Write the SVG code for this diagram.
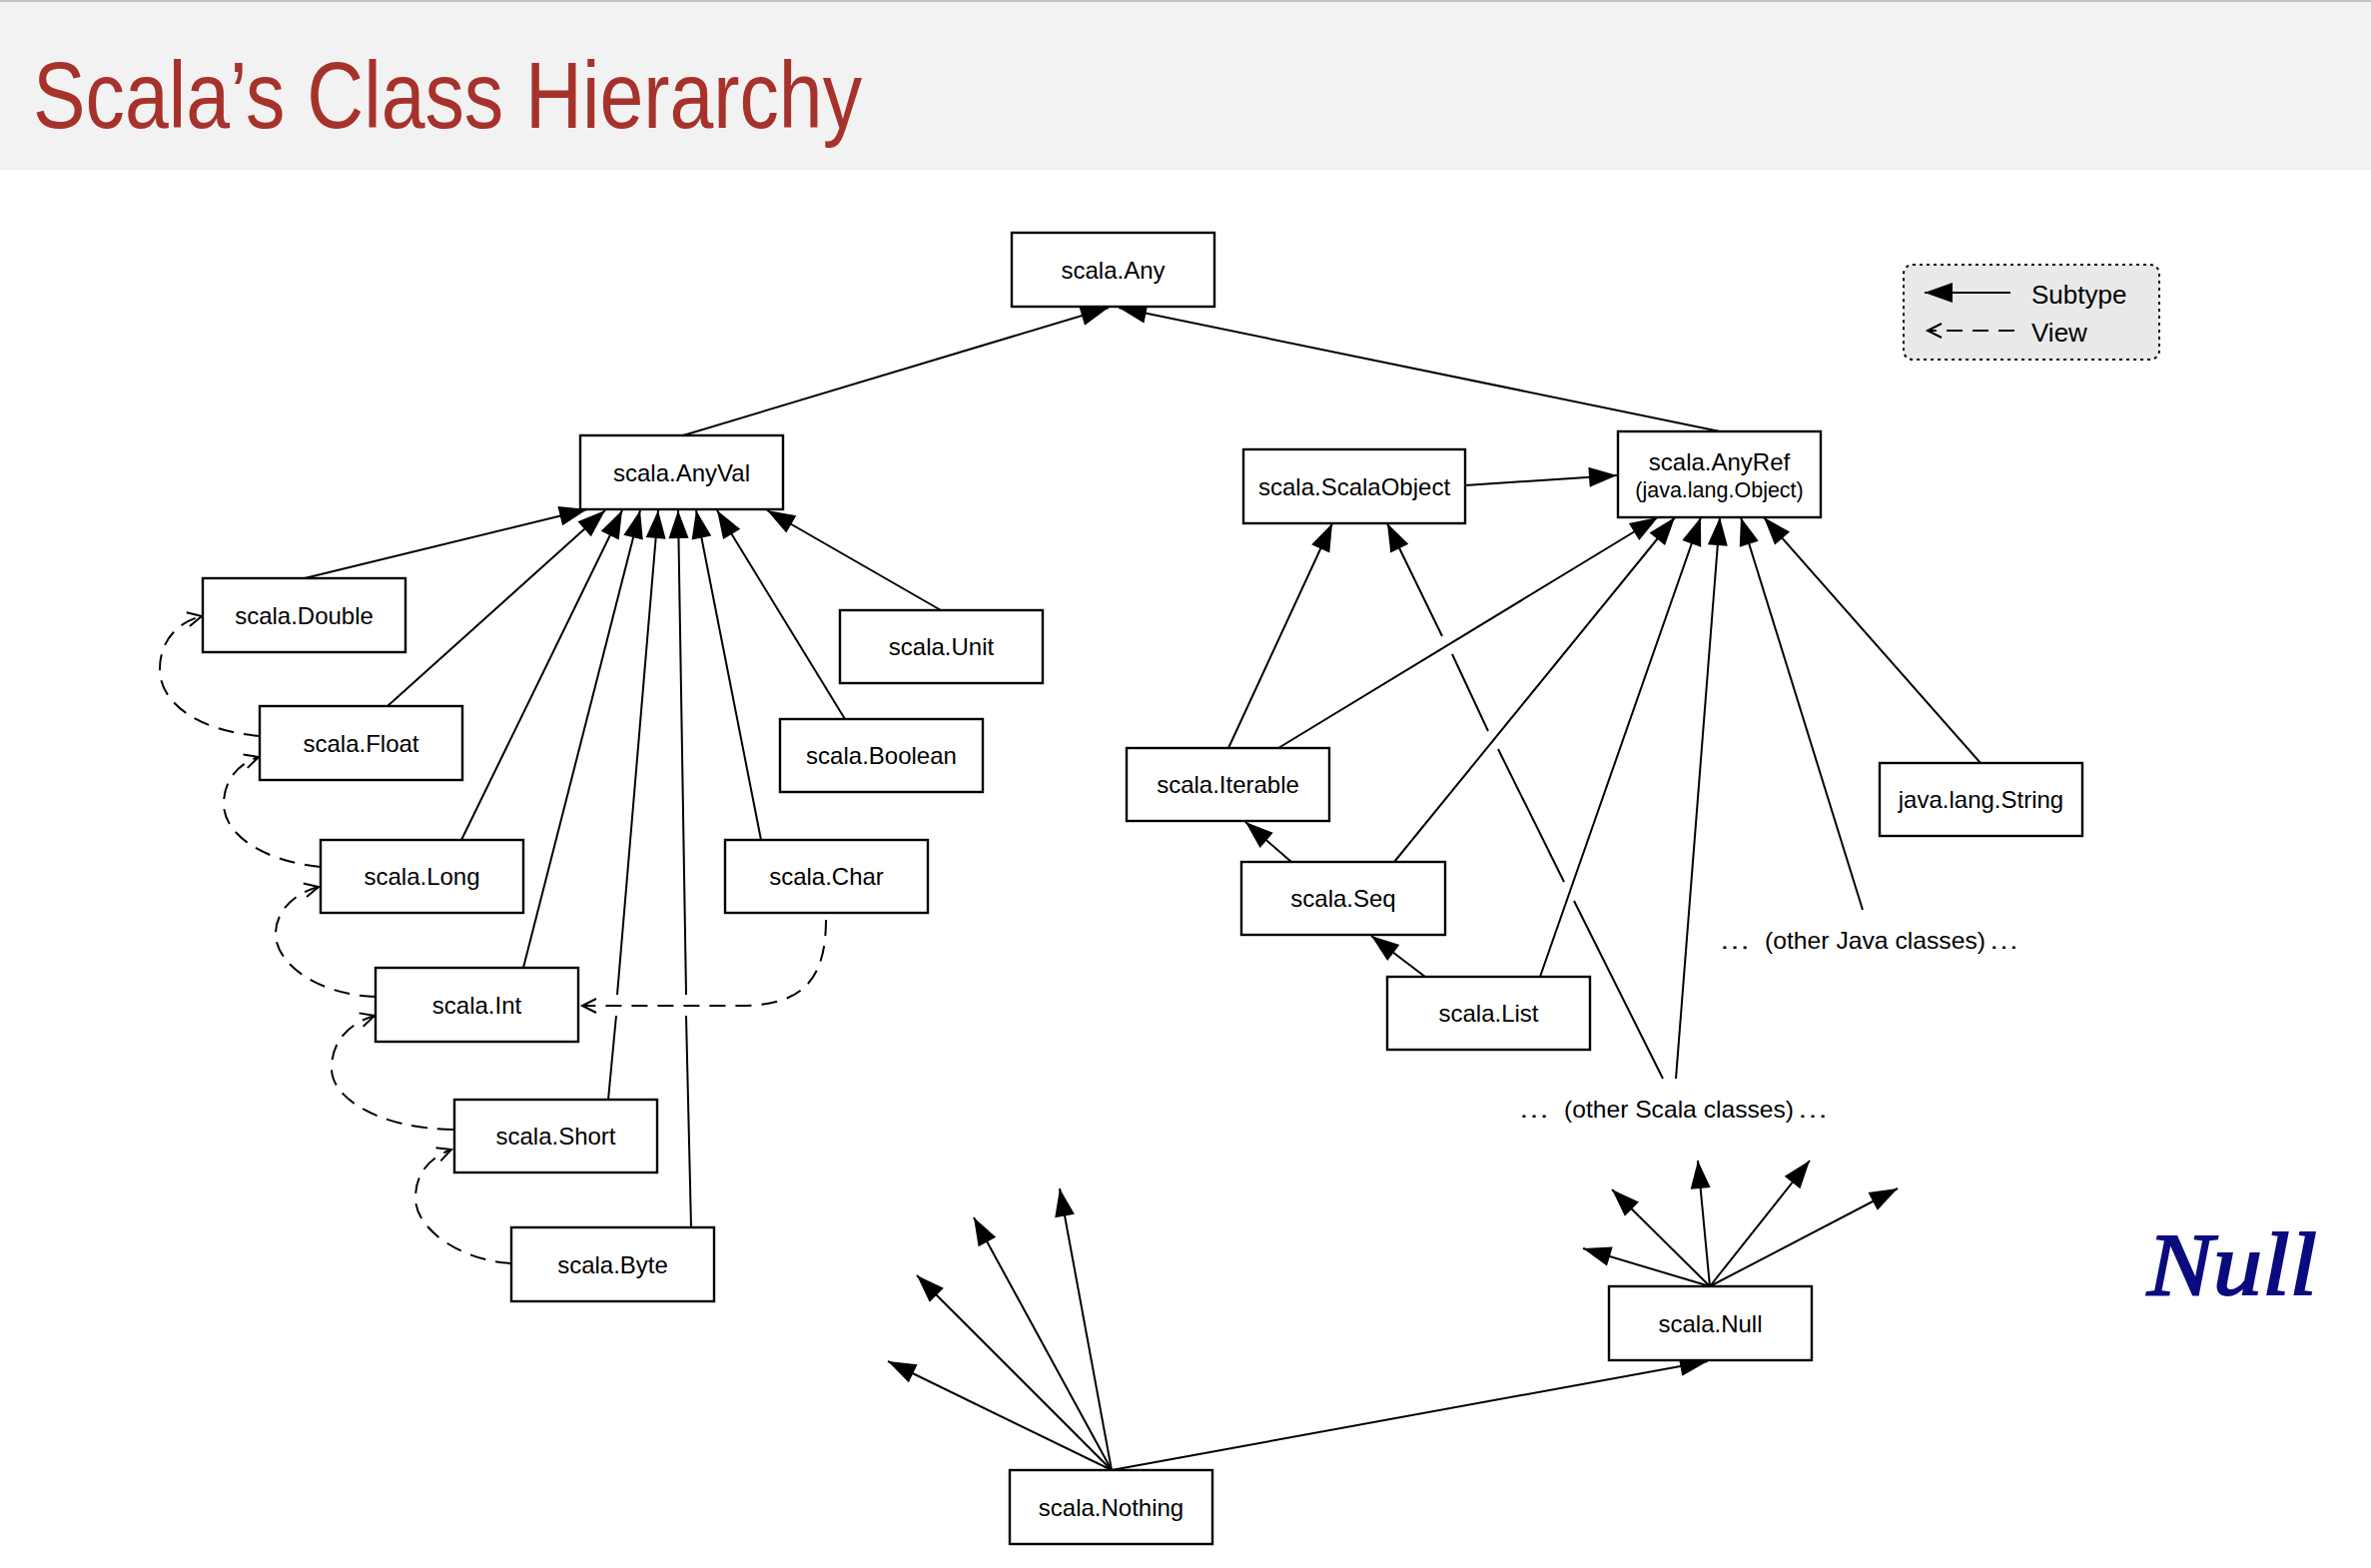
<svg xmlns="http://www.w3.org/2000/svg" width="2374" height="1570" viewBox="0 0 2374 1570">
<style>
.box{fill:#fff;stroke:#000;stroke-width:2.4}
.lbl{font-family:"Liberation Sans",Arial,sans-serif;font-size:24px;fill:#000;text-anchor:middle}
.txt{font-family:"Liberation Sans",Arial,sans-serif;font-size:24px;fill:#000}
.sub{stroke:#000;stroke-width:2;fill:none;marker-end:url(#tri)}
.seg{stroke:#000;stroke-width:2;fill:none}
.view{stroke:#000;stroke-width:2;fill:none;stroke-dasharray:16 10;marker-end:url(#open)}
</style>
<defs>
<marker id="tri" markerUnits="userSpaceOnUse" viewBox="0 0 28 20" markerWidth="28" markerHeight="20" refX="28" refY="10" orient="auto" overflow="visible">
<path d="M0,0 L28,10 L0,20 z" fill="#000" stroke="none"/>
</marker>
<marker id="open" markerUnits="userSpaceOnUse" viewBox="0 0 16 16" markerWidth="16" markerHeight="16" refX="15" refY="8" orient="auto" overflow="visible">
<path d="M1,1 L15,8 L1,15" fill="none" stroke="#000" stroke-width="2" stroke-dasharray="none"/>
</marker>
</defs>
<rect x="0" y="0" width="2374" height="1570" fill="#fff"/>
<g id="header">
<rect x="0" y="0" width="2374" height="170" fill="#f2f2f2"/>
<rect x="0" y="0" width="2374" height="2" fill="#c4c4c4"/>
<text x="33" y="128" font-family="Liberation Sans,Arial,sans-serif" font-size="94" fill="#a6322b" textLength="830" lengthAdjust="spacingAndGlyphs">Scala’s Class Hierarchy</text>
</g>
<g id="legend">
<rect x="1906" y="265" width="256" height="95" rx="9" fill="#e9e9e9" stroke="#000" stroke-width="2" stroke-dasharray="3 4"/>
<line x1="2013" y1="293" x2="1927" y2="293" class="sub"/>
<line x1="2017" y1="331" x2="1930" y2="331" class="view"/>
<text x="2034" y="304" font-family="Liberation Sans,Arial,sans-serif" font-size="26">Subtype</text>
<text x="2034" y="342" font-family="Liberation Sans,Arial,sans-serif" font-size="26">View</text>
</g>
<g id="connectors">
<line x1="684" y1="436" x2="1110" y2="308" class="sub"/>
<line x1="1722" y1="432" x2="1120" y2="308" class="sub"/>
<line x1="305" y1="579" x2="588" y2="510" class="sub"/>
<line x1="388" y1="707" x2="606" y2="511" class="sub"/>
<line x1="462" y1="841" x2="623" y2="511" class="sub"/>
<line x1="524" y1="969" x2="641" y2="511" class="sub"/>
<path d="M609,1101 L617,1017" class="seg"/>
<line x1="618" y1="996" x2="659" y2="511" class="sub"/>
<path d="M692,1229 L687,1017" class="seg"/>
<line x1="687" y1="996" x2="679" y2="511" class="sub"/>
<line x1="762" y1="841" x2="697" y2="511" class="sub"/>
<line x1="846" y1="720" x2="718" y2="511" class="sub"/>
<line x1="942" y1="611" x2="768" y2="511" class="sub"/>
<path d="M260,737 C200,732 160,705 160,670 C160,640 180,622 202,617" class="view"/>
<path d="M321,868 C262,862 224,835 224,805 C224,780 240,764 259,758" class="view"/>
<path d="M376,998 C318,996 276,965 276,935 C276,910 298,893 319,888" class="view"/>
<path d="M454,1131 C380,1130 332,1100 332,1070 C332,1040 352,1024 375,1017" class="view"/>
<path d="M512,1265 C460,1262 416,1230 416,1200 C416,1172 433,1158 452,1151" class="view"/>
<path d="M827,921 C827,985 800,1007 740,1007 L583,1007" class="view"/>
<line x1="1467" y1="486" x2="1619" y2="476" class="sub"/>
<line x1="1230" y1="749" x2="1334" y2="524" class="sub"/>
<line x1="1444" y1="637" x2="1389" y2="524" class="sub"/>
<path d="M1454,655 L1490,732 M1500,750 L1566,883 M1576,902 L1665,1080" class="seg"/>
<line x1="1280" y1="749" x2="1660" y2="518" class="sub"/>
<line x1="1396" y1="863" x2="1677" y2="518" class="sub"/>
<line x1="1542" y1="978" x2="1703" y2="518" class="sub"/>
<line x1="1678" y1="1080" x2="1722" y2="518" class="sub"/>
<line x1="1865" y1="911" x2="1743" y2="518" class="sub"/>
<line x1="1983" y1="764" x2="1766" y2="518" class="sub"/>
<line x1="1293" y1="863" x2="1247" y2="823" class="sub"/>
<line x1="1427" y1="978" x2="1373" y2="937" class="sub"/>
<line x1="1113" y1="1472" x2="889" y2="1363" class="sub"/>
<line x1="1113" y1="1472" x2="918" y2="1277" class="sub"/>
<line x1="1113" y1="1472" x2="975" y2="1219" class="sub"/>
<line x1="1113" y1="1472" x2="1061" y2="1190" class="sub"/>
<line x1="1113" y1="1472" x2="1710" y2="1363" class="sub"/>
<line x1="1712" y1="1288" x2="1585" y2="1250" class="sub"/>
<line x1="1712" y1="1288" x2="1614" y2="1191" class="sub"/>
<line x1="1712" y1="1288" x2="1700" y2="1162" class="sub"/>
<line x1="1712" y1="1288" x2="1812" y2="1162" class="sub"/>
<line x1="1712" y1="1288" x2="1900" y2="1190" class="sub"/>
</g>
<g id="any"><rect class="box" x="1013" y="233" width="203" height="74"/><text class="lbl" x="1114.5" y="279">scala.Any</text></g>
<g id="anyval"><rect class="box" x="581" y="436" width="203" height="74"/><text class="lbl" x="682.5" y="482">scala.AnyVal</text></g>
<g id="scalaobject"><rect class="box" x="1245" y="450" width="222" height="74"/><text class="lbl" x="1356" y="496">scala.ScalaObject</text></g>
<g id="anyref"><rect class="box" x="1620" y="432" width="203" height="86"/><text class="lbl" x="1721.5" y="471">scala.AnyRef</text><text class="lbl" x="1721.5" y="498" style="font-size:21.5px">(java.lang.Object)</text></g>
<g id="double"><rect class="box" x="203" y="579" width="203" height="74"/><text class="lbl" x="304.5" y="625">scala.Double</text></g>
<g id="float"><rect class="box" x="260" y="707" width="203" height="74"/><text class="lbl" x="361.5" y="753">scala.Float</text></g>
<g id="unit"><rect class="box" x="841" y="611" width="203" height="73"/><text class="lbl" x="942.5" y="656">scala.Unit</text></g>
<g id="boolean"><rect class="box" x="781" y="720" width="203" height="73"/><text class="lbl" x="882.5" y="765">scala.Boolean</text></g>
<g id="long"><rect class="box" x="321" y="841" width="203" height="73"/><text class="lbl" x="422.5" y="886">scala.Long</text></g>
<g id="char"><rect class="box" x="726" y="841" width="203" height="73"/><text class="lbl" x="827.5" y="886">scala.Char</text></g>
<g id="int"><rect class="box" x="376" y="969" width="203" height="74"/><text class="lbl" x="477.5" y="1015">scala.Int</text></g>
<g id="short"><rect class="box" x="455" y="1101" width="203" height="73"/><text class="lbl" x="556.5" y="1146">scala.Short</text></g>
<g id="byte"><rect class="box" x="512" y="1229" width="203" height="74"/><text class="lbl" x="613.5" y="1275">scala.Byte</text></g>
<g id="iterable"><rect class="box" x="1128" y="749" width="203" height="73"/><text class="lbl" x="1229.5" y="794">scala.Iterable</text></g>
<g id="seq"><rect class="box" x="1243" y="863" width="204" height="73"/><text class="lbl" x="1345" y="908">scala.Seq</text></g>
<g id="list"><rect class="box" x="1389" y="978" width="203" height="73"/><text class="lbl" x="1490.5" y="1023">scala.List</text></g>
<g id="string"><rect class="box" x="1882" y="764" width="203" height="73"/><text class="lbl" x="1983.5" y="809">java.lang.String</text></g>
<g id="null"><rect class="box" x="1611" y="1288" width="203" height="74"/><text class="lbl" x="1712.5" y="1334">scala.Null</text></g>
<g id="nothing"><rect class="box" x="1011" y="1472" width="203" height="74"/><text class="lbl" x="1112.5" y="1518">scala.Nothing</text></g>
<g id="other-java"><text class="txt" y="950"><tspan x="1721" textLength="32" lengthAdjust="spacingAndGlyphs">…</tspan><tspan x="1767" textLength="221" lengthAdjust="spacingAndGlyphs">(other Java classes)</tspan><tspan x="1991" textLength="31" lengthAdjust="spacingAndGlyphs">…</tspan></text></g>
<g id="other-scala"><text class="txt" y="1119"><tspan x="1520" textLength="32" lengthAdjust="spacingAndGlyphs">…</tspan><tspan x="1566" textLength="230" lengthAdjust="spacingAndGlyphs">(other Scala classes)</tspan><tspan x="1799" textLength="32" lengthAdjust="spacingAndGlyphs">…</tspan></text></g>
<g id="note"><text x="2150" y="1296" font-family="Liberation Serif,serif" font-style="italic" font-size="88" fill="#0b0b80" stroke="#0b0b80" stroke-width="2" textLength="170" lengthAdjust="spacingAndGlyphs">Null</text></g>
</svg>
